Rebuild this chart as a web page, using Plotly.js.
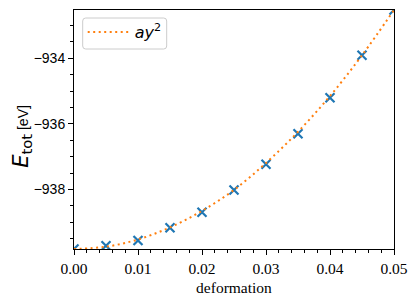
<!DOCTYPE html>
<html>
<head>
<meta charset="utf-8">
<script src="https://cdn.plot.ly/plotly-3.0.1.min.js"></script>
<style>
html, body { margin: 0; padding: 0; background: #fff; }
#chart { width: 419px; height: 304px; }
</style>
</head>
<body>
<div id="chart"></div>
<script>
// Measured data (deformation vs total energy)
const deformation = [0.000, 0.005, 0.010, 0.015, 0.020, 0.025, 0.030, 0.035, 0.040, 0.045, 0.050];
const energy = [-939.81, -939.71, -939.55, -939.16, -938.69, -938.01, -937.23, -936.30, -935.20, -933.91, -932.53];

// Fitted curve a*y^2
const fitX = [0.000, 0.005, 0.010, 0.015, 0.020, 0.025, 0.030, 0.035, 0.040, 0.045, 0.050];
const fitY = [-939.81, -939.74, -939.52, -939.15, -938.65, -938.01, -937.19, -936.24, -935.15, -933.91, -932.53];

const xTickVals = [0.00, 0.01, 0.02, 0.03, 0.04, 0.05];
const xTickText = ['0.00', '0.01', '0.02', '0.03', '0.04', '0.05'];
const yTickVals = [-938, -936, -934];
const yTickText = ['\u2212938', '\u2212936', '\u2212934'];

const W = 419, H = 304;
const M = { l: 74, r: 25, t: 10, b: 55 };
const PW = W - M.l - M.r, PH = H - M.t - M.b;
function px(x) { return (x - M.l) / PW; }
function py(y) { return (H - M.b - y) / PH; }

// rounded legend frame (pixel box converted to paper coords)
function roundedBox(x0, y0, x1, y1, r) {
  const P = (x, y) => px(x) + ',' + py(y);
  return 'M' + P(x0 + r, y0) + ' L' + P(x1 - r, y0) + ' Q' + P(x1, y0) + ' ' + P(x1, y0 + r) +
    ' L' + P(x1, y1 - r) + ' Q' + P(x1, y1) + ' ' + P(x1 - r, y1) +
    ' L' + P(x0 + r, y1) + ' Q' + P(x0, y1) + ' ' + P(x0, y1 - r) +
    ' L' + P(x0, y0 + r) + ' Q' + P(x0, y0) + ' ' + P(x0 + r, y0) + ' Z';
}

const traces = [
  {
    x: deformation,
    y: energy,
    type: 'scatter',
    mode: 'markers',
    showlegend: false,
    cliponaxis: true,
    marker: { symbol: 'x-thin', size: 9, color: '#1f77b4', line: { width: 2.2, color: '#1f77b4' } }
  },
  {
    x: fitX,
    y: fitY,
    type: 'scatter',
    mode: 'lines',
    name: '<i>ay</i><sup>2</sup>',
    line: { color: '#ff7f0e', width: 2, dash: '2px,3.5px', shape: 'spline', smoothing: 1 }
  }
];

const axisCommon = {
  showline: true, mirror: true, linecolor: '#000', linewidth: 1,
  showgrid: false, zeroline: false,
  ticks: 'outside', ticklen: 5, tickwidth: 1, tickcolor: '#000'
};

const layout = {
  width: W, height: H,
  margin: M,
  paper_bgcolor: '#fff', plot_bgcolor: '#fff',
  font: { family: 'Liberation Sans', size: 14, color: '#000' },
  xaxis: Object.assign({}, axisCommon, {
    range: [0, 0.05],
    tickmode: 'array', tickvals: xTickVals, ticktext: xTickText,
    tickfont: { family: 'Liberation Serif', size: 15.5, color: '#000' },
    minor: { dtick: 0.002, tick0: 0, ticks: 'outside', ticklen: 3, tickwidth: 1, tickcolor: '#000', showgrid: false },
    title: { text: 'deformation', font: { family: 'Liberation Serif', size: 15.5, color: '#000' }, standoff: 6 }
  }),
  yaxis: Object.assign({}, axisCommon, {
    range: [-939.81, -932.53],
    tickmode: 'array', tickvals: yTickVals, ticktext: yTickText,
    tickfont: { family: 'Liberation Sans', size: 14, color: '#000' },
    minor: { dtick: 0.5, tick0: 0, ticks: 'outside', ticklen: 3, tickwidth: 1, tickcolor: '#000', showgrid: false }
  }),
  legend: {
    x: px(82.7), y: py(15), xanchor: 'left', yanchor: 'top',
    bgcolor: 'rgba(0,0,0,0)', borderwidth: 0, itemwidth: 42,
    font: { family: 'DejaVu Sans', size: 16, color: '#000' }
  },
  shapes: [
    {
      type: 'path', xref: 'paper', yref: 'paper', layer: 'above',
      path: roundedBox(82.7, 18, 166.7, 49, 3),
      fillcolor: 'rgba(255,255,255,0.8)', line: { color: '#cccccc', width: 1 }
    }
  ],
  annotations: [
    {
      xref: 'paper', yref: 'paper', x: -0.165, y: 0.4707,
      xanchor: 'center', yanchor: 'middle', textangle: -90, showarrow: false,
      font: { family: 'DejaVu Sans', size: 21, color: '#000' },
      text: '<i>E</i><sub>tot</sub><span style="font-family:\'Liberation Sans\';font-size:14px"> [eV]</span>'
    }
  ]
};

Plotly.newPlot('chart', traces, layout, { displayModeBar: false, staticPlot: true });
</script>
</body>
</html>
